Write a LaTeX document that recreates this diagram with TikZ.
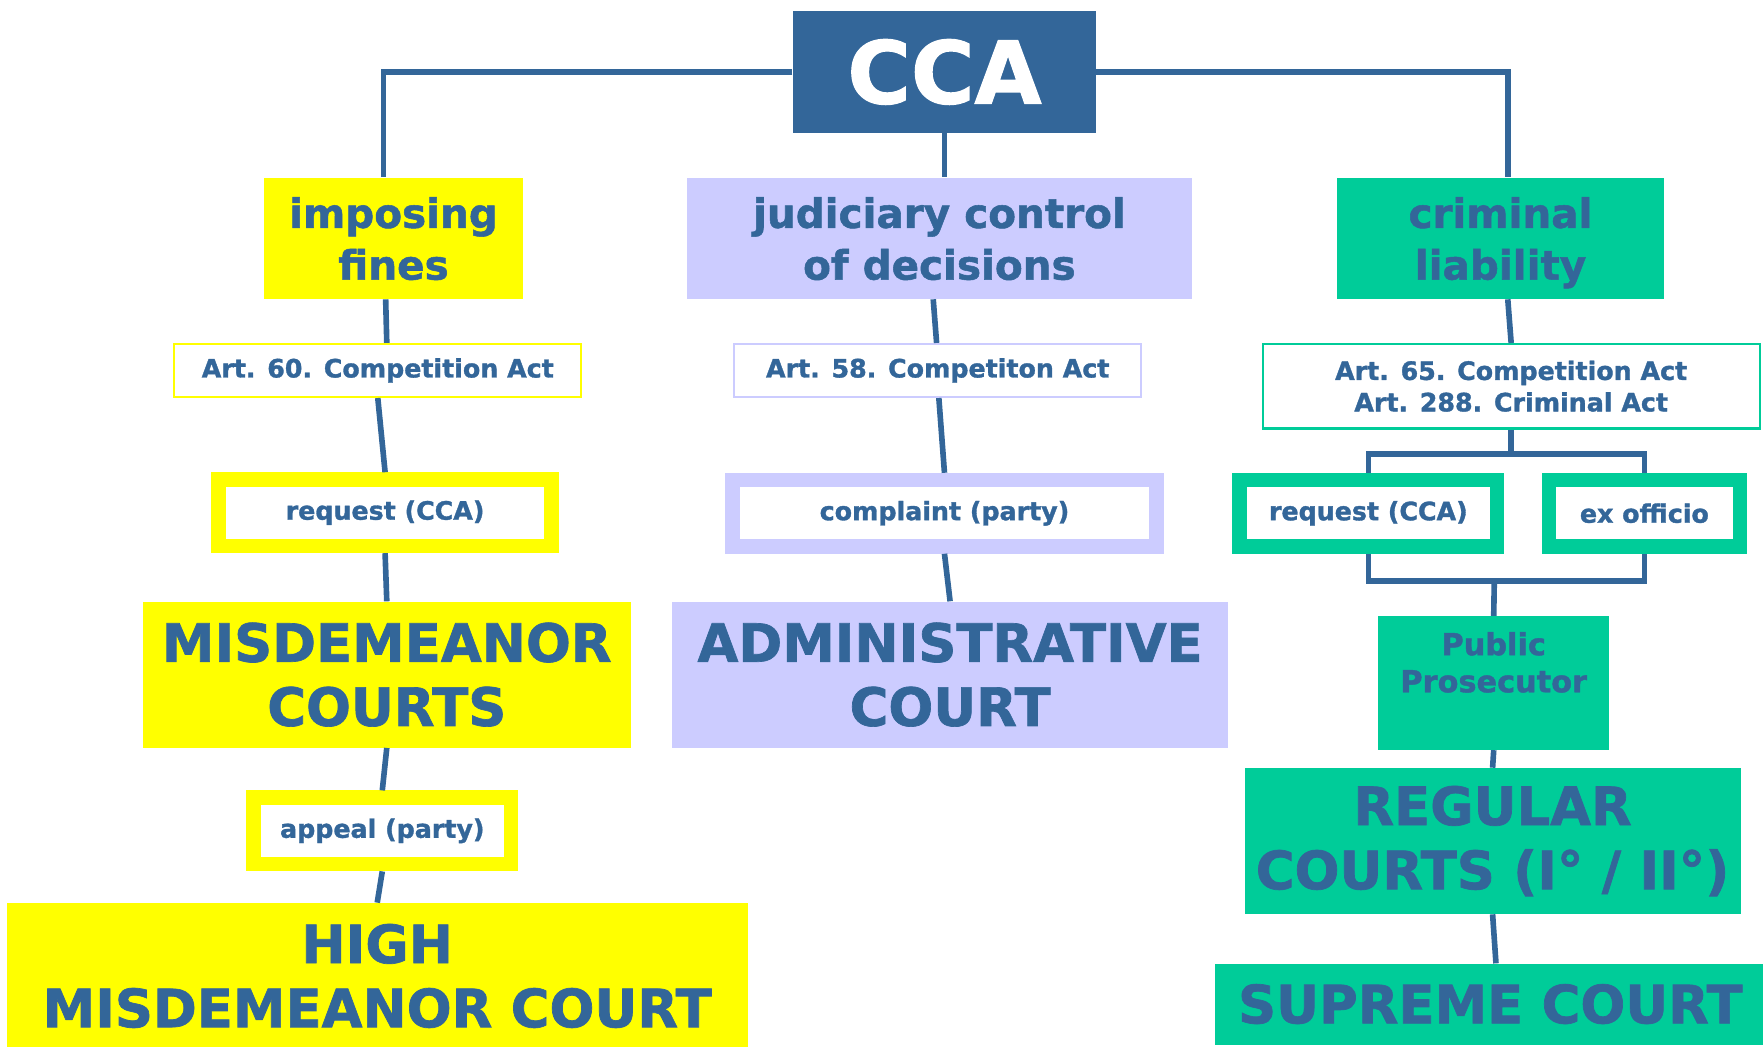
\documentclass[tikz,border=0pt]{standalone}
\usepackage{fontspec}
\setmainfont{DejaVu Sans}[BoldFeatures={FakeBold=1.3}]
\usepackage{tikz}

\definecolor{ccablue}{RGB}{51,102,153}
\definecolor{fineyellow}{RGB}{255,255,0}
\definecolor{courtlav}{RGB}{204,204,255}
\definecolor{crimgreen}{RGB}{0,204,153}

\newcommand{\ccafont}{\fontsize{77}{80}\selectfont\bfseries}
\newcommand{\headfont}{\fontsize{36}{46}\selectfont\bfseries}
\newcommand{\lawfont}{\fontsize{22.5}{28}\selectfont\bfseries}
\newcommand{\courtfont}{\fontsize{47}{57}\selectfont\bfseries}
\newcommand{\prosfont}{\fontsize{27}{33}\selectfont\bfseries}

\begin{document}
\begin{tikzpicture}[x=1pt,y=-1pt,
    box/.style={rectangle,inner sep=0pt,align=center,text=ccablue},
    headbox/.style={box,minimum height=108,text depth=0pt,font=\headfont},
    lawbox/.style={box,draw=#1,line width=2,fill=white,font=\lawfont},
    waybox/.style={box,draw=#1,line width=13,fill=white,minimum height=59,font=\lawfont},
    courtbox/.style={box,minimum height=130,font=\courtfont},
    link/.style={draw=ccablue,line width=5}]
    \useasboundingbox (0,0) rectangle (1568,931);
    \node[box,fill=ccablue,text=white,minimum width=270,minimum height=108,font=\ccafont] (cca) at (840,64) {CCA};
    \node[headbox,fill=fineyellow,minimum width=230] (fines) at (350,212) {imposing\\fines};
    \node[headbox,fill=courtlav,minimum width=449] (judic) at (835.5,212) {judiciary control\\of decisions};
    \node[headbox,fill=crimgreen,minimum width=291] (crim) at (1334.5,212) {criminal\\liability};
    \node[lawbox=fineyellow,minimum width=362,minimum height=47] (art60) at (336,329.5) {Art. 60. Competition Act};
    \node[lawbox=courtlav,minimum width=362,minimum height=47] (art58) at (834,329.5) {Art. 58. Competiton Act};
    \node[lawbox=crimgreen,minimum width=442,minimum height=75] (art65) at (1344,343.5) {Art. 65. Competition Act\\Art. 288. Criminal Act};
    \node[waybox=fineyellow,minimum width=296] (reqL) at (342.5,456) {request (CCA)};
    \node[waybox=courtlav,minimum width=377] (compl) at (840,456.5) {complaint (party)};
    \node[waybox=crimgreen,minimum width=229] (reqR) at (1217,456.5) {request (CCA)};
    \node[waybox=crimgreen,minimum width=170] (exoff) at (1462.5,456.5) {ex officio};
    \node[courtbox,fill=fineyellow,minimum width=434] (misd) at (344,600) {MISDEMEANOR\\COURTS};
    \node[courtbox,fill=courtlav,minimum width=494] (admin) at (845,600) {ADMINISTRATIVE\\COURT};
    \node[box,fill=crimgreen,minimum width=205,minimum height=119] (prosec) at (1328.5,607.5) {};
    \node[box,anchor=north,font=\prosfont] (prosectext) at (1328.5,562) {Public\\Prosecutor};
    \node[waybox=fineyellow,minimum width=229] (appeal) at (340,739) {appeal (party)};
    \node[courtbox,fill=crimgreen,minimum width=441] (regular) at (1327.5,748) {REGULAR\\COURTS (I° / II°)};
    \node[courtbox,fill=fineyellow,minimum width=659] (high) at (335.5,868) {HIGH\\MISDEMEANOR COURT};
    \node[courtbox,fill=crimgreen,minimum width=489,minimum height=72] (supreme) at (1325.5,893) {SUPREME COURT};
    \coordinate (fork) at (1344,404);
    \coordinate (join) at (1329,517);
    \draw[link] (cca.west) -| ([xshift=-9]fines.north);
    \draw[link] (cca.east) -| ([xshift=6.5]crim.north);
    \draw[link] (cca.south) -- (cca.south |- judic.north);
    \draw[link] ([xshift=-7]fines.south) -- ([xshift=8]art60.north);
    \draw[link] (art60.south) -- (reqL.north);
    \draw[link] ([xshift=-5.5]judic.south) -- ([xshift=-1]art58.north);
    \draw[link] ([xshift=1]art58.south) -- (compl.north);
    \draw[link] ([xshift=6.5]crim.south) -- (art65.north);
    \draw[link] (art65.south) -- (fork);
    \draw[link] (reqR.north) |- (fork) -| (exoff.north);
    \draw[link] (reqR.south) |- (join) -| (exoff.south);
    \draw[link] (join) -- (prosec.north);
    \draw[link] (reqL.south) -- (misd.north);
    \draw[link] (compl.south) -- (admin.north);
    \draw[link] (misd.south) -- (appeal.north);
    \draw[link] (appeal.south) -- (high.north);
    \draw[link] (prosec.south) -- (regular.north);
    \draw[link] (regular.south) -- ([xshift=5]supreme.north);
\end{tikzpicture}
\end{document}
